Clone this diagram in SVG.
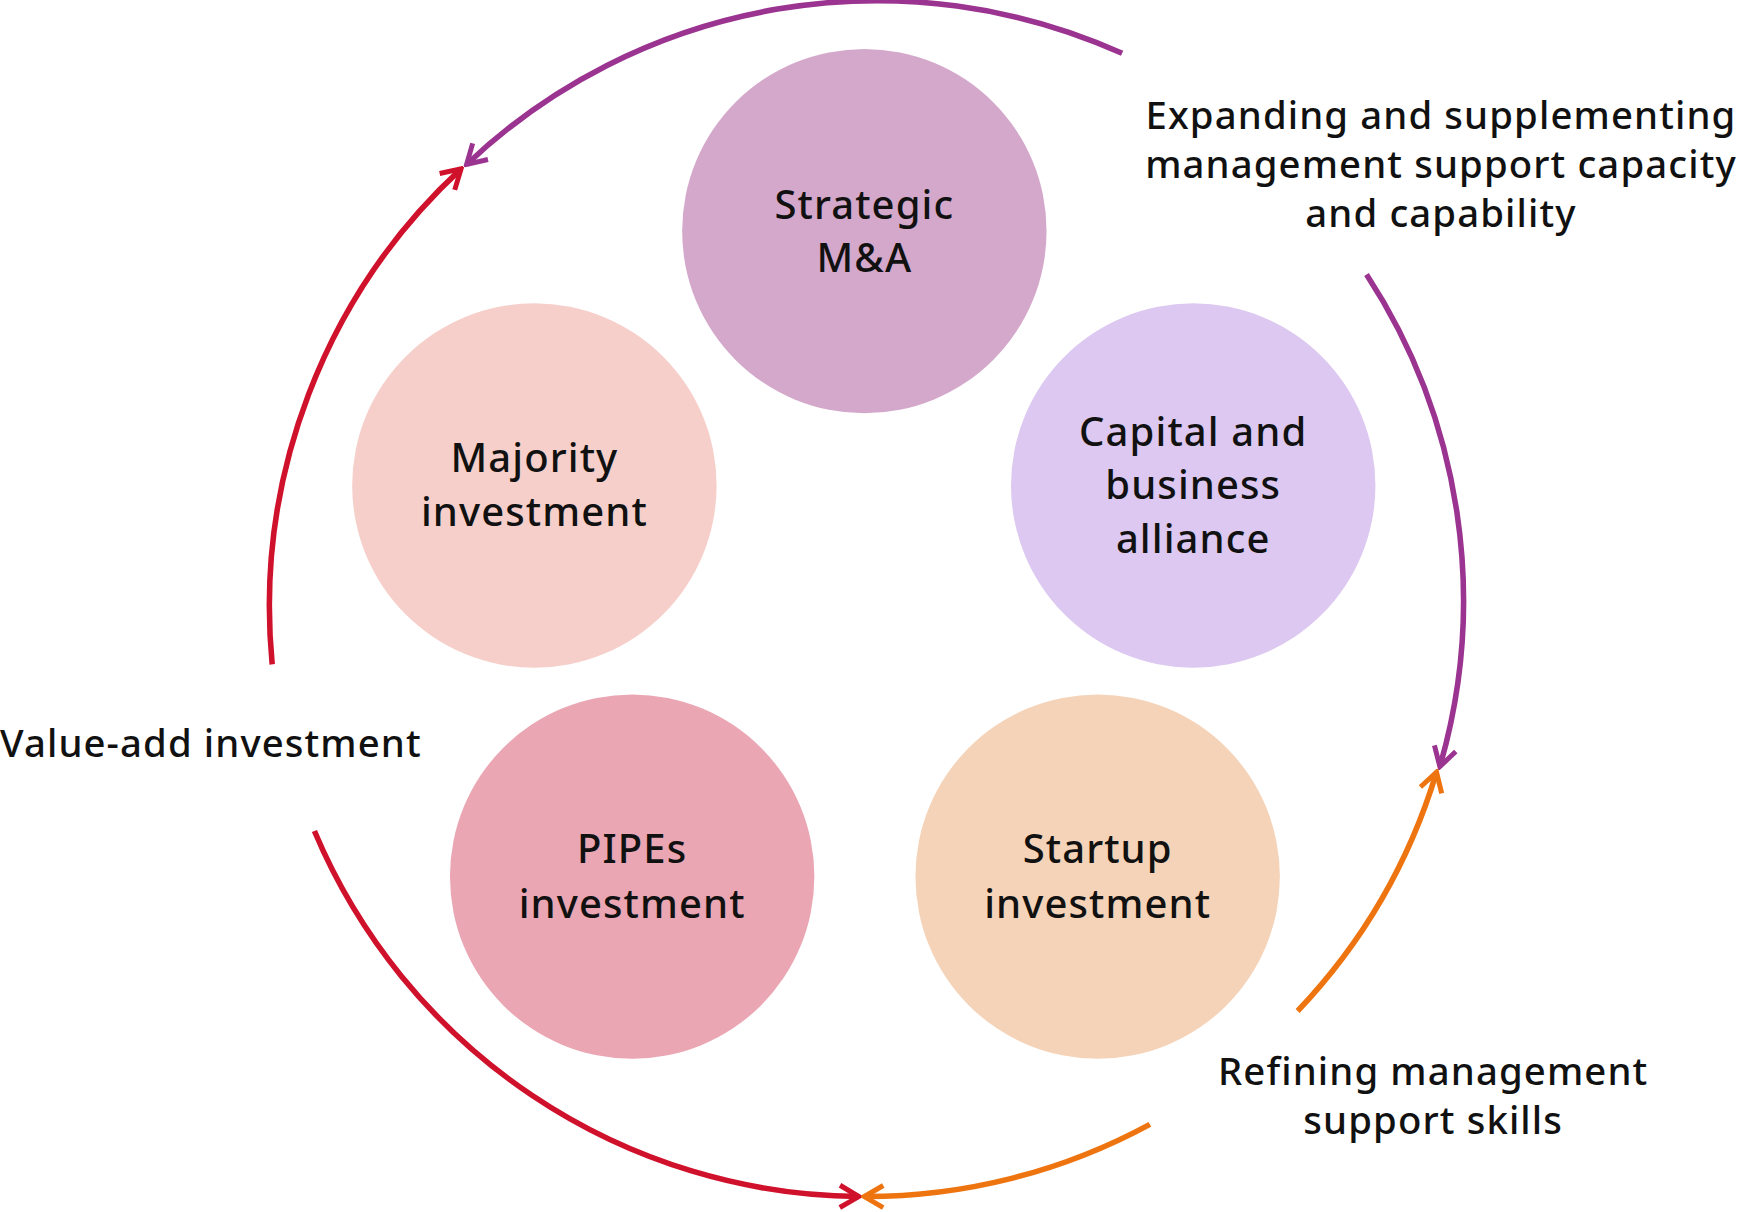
<svg xmlns="http://www.w3.org/2000/svg" width="1742" height="1212" viewBox="0 0 1742 1212">
<style>
text{font-family:"Noto Sans","DejaVu Sans",sans-serif;fill:#111;font-weight:500;letter-spacing:1px;}
.n{font-size:36px;text-anchor:middle;}
.l{font-size:34.5px;}
.arc{fill:none;stroke-width:5;}
</style>
<defs>
<marker id="mp" viewBox="0 0 24 24" refX="21" refY="12" markerWidth="24" markerHeight="24" markerUnits="userSpaceOnUse" orient="auto"><polyline points="4,2 21,12 4,22" fill="none" stroke="#9b3490" stroke-width="4.5"/></marker>
<marker id="mr" viewBox="0 0 24 24" refX="21" refY="12" markerWidth="24" markerHeight="24" markerUnits="userSpaceOnUse" orient="auto"><polyline points="4,2 21,12 4,22" fill="none" stroke="#d0112b" stroke-width="4.5"/></marker>
<marker id="mo" viewBox="0 0 24 24" refX="21" refY="12" markerWidth="24" markerHeight="24" markerUnits="userSpaceOnUse" orient="auto"><polyline points="4,2 21,12 4,22" fill="none" stroke="#ee7410" stroke-width="4.5"/></marker>
</defs>
<rect width="1742" height="1212" fill="#fff"/>
<g transform="scale(1.111)">
<g id="connectors">
<path class="arc" stroke="#9b3490" marker-end="url(#mp)" d="M1010,48 A537,537 0 0 0 420,148"/>
<path class="arc" stroke="#9b3490" marker-end="url(#mp)" d="M1230,247 A537,537 0 0 1 1296,690"/>
<path class="arc" stroke="#d0112b" marker-end="url(#mr)" d="M245,598 A537,537 0 0 1 415,152"/>
<path class="arc" stroke="#d0112b" marker-end="url(#mr)" d="M283,748 A537,537 0 0 0 773,1077"/>
<path class="arc" stroke="#ee7410" marker-end="url(#mo)" d="M1168,910 A537,537 0 0 0 1293,695"/>
<path class="arc" stroke="#ee7410" marker-end="url(#mo)" d="M1035,1012 A537,537 0 0 1 778,1077"/>
</g>
<g id="strategic"><circle cx="778" cy="208" r="164" fill="#d4a8cb"/><text class="n" x="778" y="197">Strategic</text><text class="n" x="778" y="245">M&amp;A</text></g>
<g id="majority"><circle cx="481" cy="437" r="164" fill="#f6cfca"/><text class="n" x="481" y="425">Majority</text><text class="n" x="481" y="473">investment</text></g>
<g id="capital"><circle cx="1074" cy="437" r="164" fill="#dcc8f0"/><text class="n" x="1074" y="401">Capital and</text><text class="n" x="1074" y="449">business</text><text class="n" x="1074" y="498">alliance</text></g>
<g id="pipes"><circle cx="569" cy="789" r="164" fill="#eaa6b3"/><text class="n" x="569" y="777">PIPEs</text><text class="n" x="569" y="826">investment</text></g>
<g id="startup"><circle cx="988" cy="789" r="164" fill="#f5d3b8"/><text class="n" x="988" y="777">Startup</text><text class="n" x="988" y="826">investment</text></g>
<g id="labels">
<text class="l" x="1297" y="116" text-anchor="middle">Expanding and supplementing</text>
<text class="l" x="1297" y="160" text-anchor="middle">management support capacity</text>
<text class="l" x="1297" y="204" text-anchor="middle">and capability</text>
<text class="l" x="0" y="681">Value-add investment</text>
<text class="l" x="1290" y="977" text-anchor="middle">Refining management</text>
<text class="l" x="1290" y="1021" text-anchor="middle">support skills</text>
</g>
</g>
</svg>
